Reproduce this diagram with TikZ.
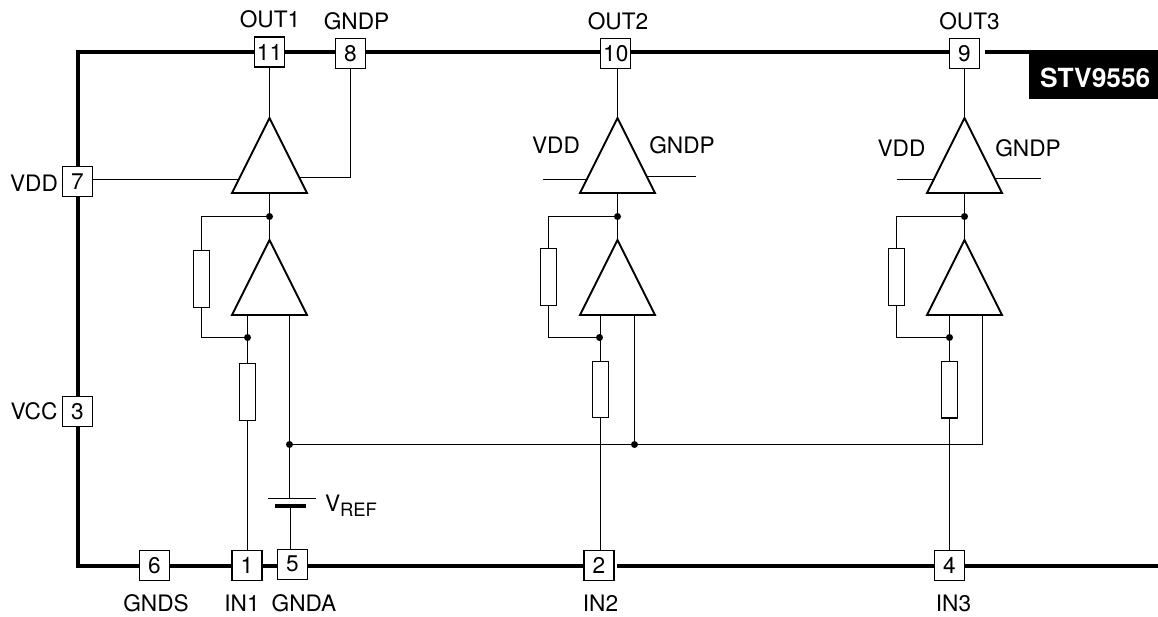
\documentclass[tikz,border=0pt]{standalone}
\usepackage{fontspec}
\setmainfont{TeX Gyre Heros}
\usetikzlibrary{shapes.geometric}
\newcommand{\pinfont}{\fontsize{12.9}{15}\selectfont}

\begin{document}
\begin{tikzpicture}[x=0.02cm, y=-0.02cm, line width=0.7pt,
    every node/.style={inner sep=0pt, outer sep=0pt, font=\pinfont},
    frame/.style={line width=2.8pt},
    pin/.style={draw, fill=white, line width=0.6pt, minimum size=0.6cm},
    amp/.style={draw, fill=white, isosceles triangle, isosceles triangle stretches, shape border rotate=90,
        minimum width=1.5cm, minimum height=1.5cm, line width=1.1pt, anchor=apex},
    res/.style={draw, fill=white, line width=0.7pt, minimum width=0.31cm, minimum height=1.13cm},
    dot/.style={circle, fill=black, minimum size=0.14cm},
    logo/.style={fill=black, text=white, font=\fontsize{15}{18}\selectfont\bfseries,
        minimum width=2.58cm, text height=21.5pt, text depth=6.2pt}]
    \useasboundingbox (0, 0) rectangle (1158, 617);
    \coordinate (tl) at (78, 52);
    \coordinate (bl) at (78, 566);
    \coordinate (tr) at (1030, 52);
    \coordinate (br) at (1158, 566);
    \coordinate (gapa) at (985, 52);
    \coordinate (gapb) at (617, 566);
    \coordinate (gapc) at (978, 52);
    \coordinate (gapd) at (612, 566);
    \draw [frame] (gapc) -- (tl) -- (bl) -- (gapd);
    \draw [frame] (gapa) -- (tr);
    \draw [frame] (gapb) -- (br);
    % pins
    \node[pin] (pin11) at (269.5, 52) {11};
    \node[pin] (pin8) at (350.5, 53.5) {8};
    \node[pin] (pin10) at (615.8, 53.3) {10};
    \node[pin] (pin9) at (964.5, 53.3) {9};
    \node[pin] (pin7) at (77.5, 181.5) {7};
    \node[pin] (pin3) at (77.5, 411.3) {3};
    \node[pin] (pin6) at (154.5, 565.3) {6};
    \node[pin] (pin1) at (247, 565.3) {1};
    \node[pin] (pin5) at (292.5, 564.3) {5};
    \node[pin] (pin2) at (599, 565.5) {2};
    \node[pin] (pin4) at (949.5, 565.5) {4};
    \node[logo] (chip) at (1093.5, 74.5) {\kern2pt STV9556};
    % labels
    \node (outa) at (270, 19) {OUT1};
    \node (gnda) at (356.5, 21.5) {GNDP};
    \node (outb) at (618, 21) {OUT2};
    \node (outc) at (969.5, 21) {OUT3};
    \node (vdda) at (34, 183.5) {VDD};
    \node (vcc) at (34, 411) {VCC};
    \node (vddb) at (556, 145) {VDD};
    \node (gndb) at (682, 145) {GNDP};
    \node (vddc) at (901.5, 148) {VDD};
    \node (gndc) at (1028, 148) {GNDP};
    \node (gnds) at (156, 603) {GNDS};
    \node (ina) at (242, 603) {IN1};
    \node (gndana) at (304, 603) {GNDA};
    \node (inb) at (600.5, 603) {IN2};
    \node (inc) at (953.5, 603) {IN3};
    \node[anchor=base west] (vref) at (325, 511.7) {V\raisebox{-2.8pt}{\fontsize{10.5}{12}\selectfont REF}};
    % first channel
    \node[amp] (ampa) at (269.5, 118) {};
    \node[amp] (ampb) at (269.5, 240) {};
    \node[res] (resa) at (201.5, 279) {};
    \node[res] (resb) at (247.5, 392) {};
    \node[dot] (dota) at (269.5, 216.5) {};
    \node[dot] (dotb) at (247.5, 337.5) {};
    \node[dot] (dotv) at (289.5, 444.5) {};
    \node[fill=black, minimum width=0.96cm, minimum height=0.02cm] (platea) at (292, 498.5) {};
    \node[fill=black, minimum width=0.62cm, minimum height=0.08cm] (plateb) at (290.5, 506) {};
    \coordinate (vcca) at (238.5, 179.5);
    \coordinate (gpa) at (298.5, 177.5);
    \draw (pin11) to (ampa.apex);
    \draw (pin7.east |- vcca) to (vcca);
    \draw (pin8.south) |- (gpa);
    \draw (ampa.lower side) to (dota);
    \draw (dota) to (ampb.apex);
    \draw (dota) -| (resa.north);
    \draw (resa.south) |- (dotb);
    \draw (dotb) to (dotb |- ampb.lower side);
    \draw (dotb) to (resb.north);
    \draw (resb.south) to (resb.south |- pin1.north);
    \draw (dotv) to (dotv |- ampb.lower side);
    \draw (dotv) to (dotv |- platea.north);
    \draw (plateb.south) to (plateb.south |- pin5.north);
    % second channel
    \node[amp] (ampc) at (617.5, 118) {};
    \node[amp] (ampd) at (617.5, 240) {};
    \node[res] (resc) at (548.5, 277) {};
    \node[res] (resd) at (600.5, 389.5) {};
    \node[dot] (dotc) at (617.5, 216.5) {};
    \node[dot] (dotd) at (599.5, 337.5) {};
    \node[dot] (dotw) at (634.5, 444.5) {};
    \coordinate (vccb) at (586.5, 179.5);
    \coordinate (vccx) at (543, 179.5);
    \coordinate (gpb) at (646.5, 176.5);
    \coordinate (gpx) at (696, 176.5);
    \draw (ampc.apex |- pin10.south) to (ampc.apex);
    \draw (vccx) to (vccb);
    \draw (gpb) to (gpx);
    \draw (ampc.lower side) to (ampd.apex);
    \draw (dotc) -| (resc.north);
    \draw (resc.south) |- (dotd);
    \draw (resd.north |- ampd.lower side) to (resd.north);
    \draw (resd.south) to (resd.south |- pin2.north);
    \draw (dotw) to (dotw |- ampd.lower side);
    % third channel
    \node[amp] (ampe) at (964.5, 118) {};
    \node[amp] (ampf) at (964.5, 240) {};
    \node[res] (rese) at (896.5, 277) {};
    \node[res] (resf) at (949.5, 389.7) {};
    \node[dot] (dote) at (964.5, 216.5) {};
    \node[dot] (dotf) at (949.5, 337.5) {};
    \coordinate (vccc) at (934.5, 179.5);
    \coordinate (vccy) at (897, 179.5);
    \coordinate (gpc) at (995, 178.5);
    \coordinate (gpy) at (1041, 178.5);
    \coordinate (busend) at (982.5, 315);
    \draw (ampe.apex |- pin9.south) to (ampe.apex);
    \draw (vccy) to (vccc);
    \draw (gpc) to (gpy);
    \draw (ampe.lower side) to (ampf.apex);
    \draw (dote) -| (rese.north);
    \draw (rese.south) |- (dotf);
    \draw (dotf |- ampf.lower side) to (resf.north);
    \draw (resf.south) to (resf.south |- pin4.north);
    \draw (dotv) to (dotw) -| (busend);
\end{tikzpicture}
\end{document}
